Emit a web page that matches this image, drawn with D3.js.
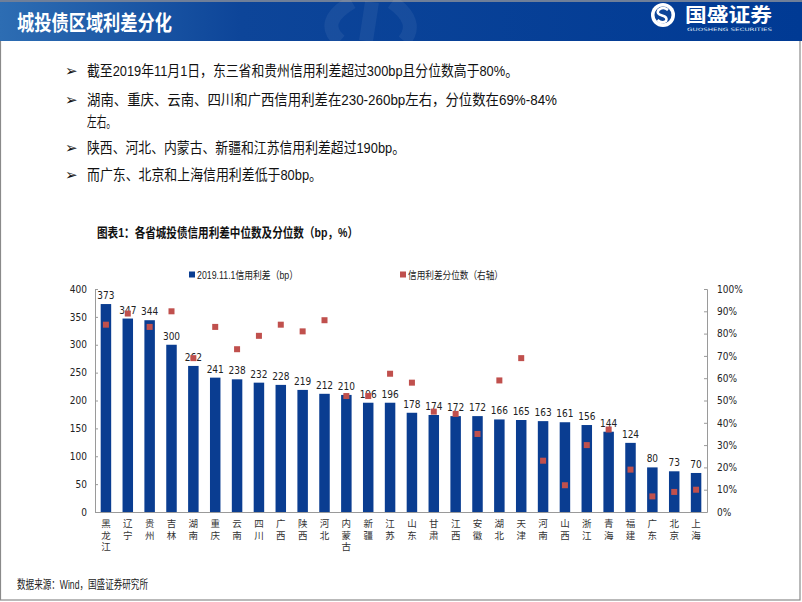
<!DOCTYPE html>
<html><head><meta charset="utf-8">
<script src="https://cdn.jsdelivr.net/npm/d3@7/dist/d3.min.js"></script>
<style>
html,body{margin:0;padding:0;background:#fff;}
svg{display:block;}
</style></head>
<body>
<script>
const provinces = ["黑龙江","辽宁","贵州","吉林","湖南","重庆","云南","四川","广西","陕西","河北","内蒙古","新疆","江苏","山东","甘肃","江西","安徽","湖北","天津","河南","山西","浙江","青海","福建","广东","北京","上海"];
const spreadBp = [373,347,344,300,262,241,238,232,228,219,212,210,196,196,178,174,172,172,166,165,163,161,156,144,124,80,73,70];
const percentile = [0.84,0.89,0.83,0.90,0.69,0.83,0.73,0.79,0.84,0.81,0.86,0.52,0.52,0.62,0.58,0.45,0.44,0.35,0.59,0.69,0.23,0.12,0.30,0.37,0.19,0.07,0.09,0.10];
const leftTicks = [0,50,100,150,200,250,300,350,400];
const rightTicks = [0,0.1,0.2,0.3,0.4,0.5,0.6,0.7,0.8,0.9,1.0];
const seriesNames = ["2019.11.1信用利差（bp）","信用利差分位数（右轴）"];
const pageTitle = "城投债区域利差分化";
const bullets = [
  {t:"截至2019年11月1日，东三省和贵州信用利差超过300bp且分位数高于80%。", y:76, w:431, mark:true},
  {t:"湖南、重庆、云南、四川和广西信用利差在230-260bp左右，分位数在69%-84%", y:105, w:470, mark:true},
  {t:"左右。", y:127, w:29, mark:false},
  {t:"陕西、河北、内蒙古、新疆和江苏信用利差超过190bp。", y:153, w:318, mark:true},
  {t:"而广东、北京和上海信用利差低于80bp。", y:180, w:235, mark:true}
];
const chartTitle = "图表1：各省城投债信用利差中位数及分位数（bp，%）";
const sourceText = "数据来源：Wind，国盛证券研究所";

const W=802,H=602;
const svg = d3.select("body").append("svg").attr("width",W).attr("height",H);
const cjk = "'Liberation Sans','Noto Sans CJK SC',sans-serif";
const num = "'DejaVu Sans Condensed','DejaVu Sans',sans-serif";

// page frame
svg.append("rect").attr("x",0.5).attr("y",0.5).attr("width",799.5).attr("height",599.5)
  .attr("fill","none").attr("stroke","#8a8a8a").attr("stroke-width",1.2);

// header band
const defs = svg.append("defs");
const g1 = defs.append("linearGradient").attr("id","hdr").attr("x1","0").attr("x2","1").attr("y1","0").attr("y2","0");
g1.append("stop").attr("offset","0").attr("stop-color","#2d6db3");
g1.append("stop").attr("offset","0.3").attr("stop-color","#0d4599");
g1.append("stop").attr("offset","1").attr("stop-color","#003a94");
svg.append("rect").attr("x",0).attr("y",0).attr("width",W).attr("height",2).attr("fill","#6f7f99");
svg.append("rect").attr("x",0).attr("y",2).attr("width",W).attr("height",39).attr("fill","url(#hdr)");
// faint watermark arcs
const wm = svg.append("g").attr("fill","none").attr("stroke","#ffffff").attr("stroke-opacity",0.06).attr("stroke-width",14);
wm.append("path").attr("d","M352,2 Q318,22 340,41");
wm.append("path").attr("d","M372,2 L366,41");
wm.append("path").attr("d","M392,2 Q420,22 404,41");
svg.append("text").attr("x",17).attr("y",30).attr("fill","#fff").attr("font-family","'Noto Sans CJK SC',sans-serif")
  .attr("font-weight","bold").attr("font-size",21).attr("textLength",155).attr("lengthAdjust","spacingAndGlyphs").text(pageTitle);
// logo
const logo = svg.append("g");
logo.append("circle").attr("cx",663).attr("cy",15).attr("r",12).attr("fill","#fff");
logo.append("circle").attr("cx",663).attr("cy",15).attr("r",8.5).attr("fill","#0d4599");
logo.append("path").attr("d","M668,10 Q663,6 658.5,10 Q656,14 662,15.5 Q668,17 666,21 Q662,24 657.5,20")
  .attr("fill","none").attr("stroke","#fff").attr("stroke-width",2.6);
logo.append("text").attr("x",685).attr("y",22).attr("fill","#fff").attr("font-family","'Noto Sans CJK SC',sans-serif")
  .attr("font-weight","bold").attr("font-size",19).attr("textLength",87).attr("lengthAdjust","spacingAndGlyphs").text("国盛证券");
logo.append("text").attr("x",687).attr("y",31).attr("fill","#dfe6f3").attr("font-family","'DejaVu Sans',sans-serif")
  .attr("font-size",4.5).attr("textLength",85).attr("lengthAdjust","spacingAndGlyphs").text("GUOSHENG SECURITIES");

// bullets
bullets.forEach(b=>{
  if(b.mark) svg.append("text").attr("x",65).attr("y",b.y).attr("font-family","'DejaVu Sans',sans-serif")
    .attr("font-size",15).attr("fill","#111").text("➢");
  svg.append("text").attr("x",87).attr("y",b.y).attr("font-family",cjk).attr("font-size",15).attr("fill","#111")
    .attr("textLength",b.w).attr("lengthAdjust","spacingAndGlyphs").text(b.t);
});

// chart title
svg.append("text").attr("x",97).attr("y",237).attr("font-family",cjk).attr("font-weight","bold").attr("font-size",13)
  .attr("fill","#111").attr("textLength",261).attr("lengthAdjust","spacingAndGlyphs").text(chartTitle);

// scales
const x = d3.scaleBand().domain(provinces).range([95,707]).paddingInner(0.52).paddingOuter(0.26);
const yL = d3.scaleLinear().domain([0,400]).range([512,289]);
const yR = d3.scaleLinear().domain([0,1]).range([512,289]);
const barColor = "#0a3d91", dotColor = "#c0504d";

// legend
const lg = svg.append("g");
lg.append("rect").attr("x",189).attr("y",271.5).attr("width",6).attr("height",6).attr("fill",barColor);
lg.append("text").attr("x",197).attr("y",278.5).attr("font-family",cjk).attr("font-size",10.5).attr("fill","#222")
  .attr("textLength",101).attr("lengthAdjust","spacingAndGlyphs").text(seriesNames[0]);
lg.append("rect").attr("x",400).attr("y",271.5).attr("width",6).attr("height",6).attr("fill",dotColor);
lg.append("text").attr("x",408).attr("y",278.5).attr("font-family",cjk).attr("font-size",10.5).attr("fill","#222")
  .attr("textLength",95).attr("lengthAdjust","spacingAndGlyphs").text(seriesNames[1]);

// axes
const axL = svg.append("g").attr("transform","translate(95,0)")
  .call(d3.axisLeft(yL).tickValues(leftTicks).tickSize(-3).tickPadding(8).tickFormat(d3.format("d")));
const axR = svg.append("g").attr("transform","translate(707,0)")
  .call(d3.axisRight(yR).tickValues(rightTicks).tickSize(-3).tickPadding(10).tickFormat(d3.format(".0%")));
[axL,axR].forEach(a=>{
  a.select(".domain").attr("stroke","#9a9a9a");
  a.selectAll(".tick line").attr("stroke","#9a9a9a");
  a.selectAll(".tick text").attr("font-family",num).attr("font-size",10).attr("fill","#222");
});
svg.append("line").attr("x1",95).attr("x2",707).attr("y1",yL(0)+0.5).attr("y2",yL(0)+0.5).attr("stroke","#9a9a9a");

// bars
svg.append("g").selectAll("rect").data(provinces).join("rect")
  .attr("x",d=>x(d)).attr("width",x.bandwidth())
  .attr("y",(d,i)=>yL(spreadBp[i])).attr("height",(d,i)=>yL(0)-yL(spreadBp[i]))
  .attr("fill",barColor);
// bar labels
svg.append("g").selectAll("text").data(provinces).join("text")
  .attr("x",d=>x(d)+x.bandwidth()/2).attr("y",(d,i)=>yL(spreadBp[i])-5)
  .attr("text-anchor","middle").attr("font-family",num).attr("font-size",10).attr("fill","#222")
  .text((d,i)=>spreadBp[i]);
// percentile markers
svg.append("g").selectAll("rect").data(provinces).join("rect")
  .attr("x",d=>x(d)+x.bandwidth()/2-3).attr("y",(d,i)=>yR(percentile[i])-3)
  .attr("width",6).attr("height",6).attr("fill",dotColor);

// category labels (vertical writing mode)
svg.append("g").selectAll("text").data(provinces).join("text")
  .attr("x",d=>x(d)+x.bandwidth()/2).attr("y",519)
  .style("writing-mode","vertical-rl").style("letter-spacing","2px")
  .attr("font-family","'Noto Sans CJK SC',sans-serif").attr("font-size",9.5).attr("fill","#333")
  .text(d=>d);

// source
svg.append("text").attr("x",17).attr("y",589).attr("font-family",cjk).attr("font-size",12).attr("fill","#222")
  .attr("textLength",131).attr("lengthAdjust","spacingAndGlyphs").text(sourceText);
</script>
</body></html>
